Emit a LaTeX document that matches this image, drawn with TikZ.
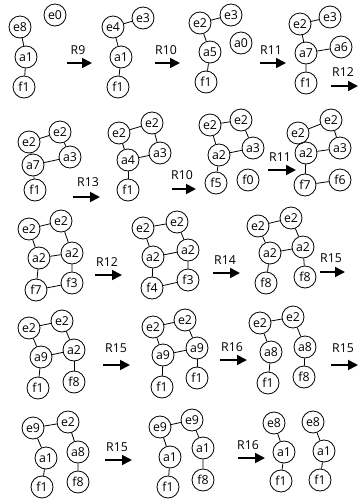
\documentclass[tikz,border=0pt]{standalone}
\usepackage{fontspec}
\setmainfont{Open Sans}
\usetikzlibrary{arrows.meta}
\begin{document}
\begin{tikzpicture}[x=1pt,y=-1pt,
  st/.style={circle,draw,line width=0.8pt,minimum size=22pt,inner sep=0pt,
    font=\fontsize{12.3}{13}\selectfont},
  ln/.style={line width=0.8pt},
  rulearrow/.style={-{Triangle[length=10pt,width=10pt]},line width=1.8pt},
  rlabel/.style={inner sep=0pt,font=\fontsize{12.3}{13}\selectfont}]
\useasboundingbox (0,0) rectangle (358,499);

% ---------------- row 1 ----------------
\node[st] (a-e8) at (20,27) {e8};
\node[st] (a-e0) at (55,15) {e0};
\node[st] (a-a1) at (26,57) {a1};
\node[st] (a-f1) at (24,87) {f1};
\draw[ln] (a-e8) -- (a-a1) -- (a-f1);
\coordinate (r9s) at (67,63); \coordinate (r9e) at (92,63);
\draw[rulearrow] (r9s) -- (r9e);
\node[rlabel] (r9l) at (78,50) {R9};

\node[st] (b-e4) at (113,27) {e4};
\node[st] (b-e3) at (143,18) {e3};
\node[st] (b-a1) at (121,57) {a1};
\node[st] (b-f1) at (118,87) {f1};
\draw[ln] (b-e3) -- (b-e4) -- (b-a1) -- (b-f1);
\coordinate (r10s) at (155,63); \coordinate (r10e) at (180,63);
\draw[rulearrow] (r10s) -- (r10e);
\node[rlabel] (r10l) at (166,50) {R10};

\node[st] (c-e2) at (200,23) {e2};
\node[st] (c-e3) at (231,15) {e3};
\node[st] (c-a5) at (210,52) {a5};
\node[st] (c-a0) at (241,43) {a0};
\node[st] (c-f1) at (206,82) {f1};
\draw[ln] (c-e3) -- (c-e2) -- (c-a5) -- (c-f1);
\coordinate (r11s) at (260,63); \coordinate (r11e) at (286,63);
\draw[rulearrow] (r11s) -- (r11e);
\node[rlabel] (r11l) at (271,50) {R11};

\node[st] (d-e2) at (300,24) {e2};
\node[st] (d-e3) at (330,17) {e3};
\node[st] (d-a7) at (306,53) {a7};
\node[st] (d-a6) at (341,47) {a6};
\node[st] (d-f1) at (306,83) {f1};
\draw[ln] (d-e3) -- (d-e2) -- (d-a7) -- (d-f1);
\draw[ln] (d-a7) -- (d-a6);
\coordinate (r12s) at (331,86); \coordinate (r12e) at (358,86);
\draw[rulearrow] (r12s) -- (r12e);
\node[rlabel] (r12l) at (343,72) {R12};

% ---------------- row 2 ----------------
\node[st] (e-e2l) at (29,142) {e2};
\node[st] (e-e2r) at (60,132) {e2};
\node[st] (e-a7) at (33,165) {a7};
\node[st] (e-a3) at (70,157) {a3};
\node[st] (e-f1) at (35,190) {f1};
\draw[ln] (e-e2l) -- (e-e2r) -- (e-a3) -- (e-a7) -- (e-e2l);
\draw[ln] (e-a7) -- (e-f1);
\coordinate (r13s) at (73,197); \coordinate (r13e) at (100,197);
\draw[rulearrow] (r13s) -- (r13e);
\node[rlabel] (r13l) at (88,182) {R13};

\node[st] (f-e2l) at (119,133) {e2};
\node[st] (f-e2r) at (152,123) {e2};
\node[st] (f-a4) at (128,160) {a4};
\node[st] (f-a3) at (160,153) {a3};
\node[st] (f-f1) at (128,190) {f1};
\draw[ln] (f-e2l) -- (f-e2r) -- (f-a3) -- (f-a4) -- (f-e2l);
\draw[ln] (f-a4) -- (f-f1);
\coordinate (r10bs) at (172,189); \coordinate (r10be) at (196,189);
\draw[rulearrow] (r10bs) -- (r10be);
\node[rlabel] (r10bl) at (182,175) {R10};

\node[st] (g-e2l) at (210,125) {e2};
\node[st] (g-e2r) at (241,120) {e2};
\node[st] (g-a2) at (219,155) {a2};
\node[st] (g-a3) at (253,148) {a3};
\node[st] (g-f5) at (216,183) {f5};
\node[st] (g-f0) at (248,180) {f0};
\draw[ln] (g-e2l) -- (g-e2r) -- (g-a3) -- (g-a2) -- (g-e2l);
\draw[ln] (g-a2) -- (g-f5);
\coordinate (r11bs) at (268,170); \coordinate (r11be) at (296,170);
\draw[rulearrow] (r11bs) -- (r11be);
\node[rlabel] (r11bl) at (280,157) {R11};

\node[st] (h-e2l) at (298,133) {e2};
\node[st] (h-e2r) at (331,120) {e2};
\node[st] (h-a2) at (306,153) {a2};
\node[st] (h-a3) at (340,148) {a3};
\node[st] (h-f7) at (305,185) {f7};
\node[st] (h-f6) at (340,180) {f6};
\draw[ln] (h-e2l) -- (h-e2r) -- (h-a3) -- (h-a2) -- (h-e2l);
\draw[ln] (h-a2) -- (h-f7) -- (h-f6);

% ---------------- row 3 ----------------
\node[st] (i-e2l) at (29,229) {e2};
\node[st] (i-e2r) at (61,221) {e2};
\node[st] (i-a2l) at (39,258) {a2};
\node[st] (i-a2r) at (72,253) {a2};
\node[st] (i-f7) at (36,290) {f7};
\node[st] (i-f3) at (72,283) {f3};
\draw[ln] (i-e2l) -- (i-e2r) -- (i-a2r) -- (i-a2l) -- (i-e2l);
\draw[ln] (i-a2l) -- (i-f7) -- (i-f3) -- (i-a2r);
\coordinate (r12bs) at (95,275); \coordinate (r12be) at (122,275);
\draw[rulearrow] (r12bs) -- (r12be);
\node[rlabel] (r12bl) at (107,262) {R12};

\node[st] (j-e2l) at (143,228) {e2};
\node[st] (j-e2r) at (177,222) {e2};
\node[st] (j-a2l) at (153,257) {a2};
\node[st] (j-a2r) at (188,250) {a2};
\node[st] (j-f4) at (152,288) {f4};
\node[st] (j-f3) at (188,280) {f3};
\draw[ln] (j-e2l) -- (j-e2r) -- (j-a2r) -- (j-a2l) -- (j-e2l);
\draw[ln] (j-a2l) -- (j-f4) -- (j-f3) -- (j-a2r);
\coordinate (r14s) at (213,273); \coordinate (r14e) at (240,273);
\draw[rulearrow] (r14s) -- (r14e);
\node[rlabel] (r14l) at (225,260) {R14};

\node[st] (k-e2l) at (258,226) {e2};
\node[st] (k-e2r) at (291,218) {e2};
\node[st] (k-a2l) at (270,253) {a2};
\node[st] (k-a2r) at (303,247) {a2};
\node[st] (k-f8l) at (266,283) {f8};
\node[st] (k-f8r) at (305,277) {f8};
\draw[ln] (k-e2l) -- (k-e2r) -- (k-a2r) -- (k-a2l) -- (k-e2l);
\draw[ln] (k-a2l) -- (k-f8l);
\draw[ln] (k-a2r) -- (k-f8r);
\coordinate (r15as) at (320,272); \coordinate (r15ae) at (345,272);
\draw[rulearrow] (r15as) -- (r15ae);
\node[rlabel] (r15al) at (331,258) {R15};

% ---------------- row 4 ----------------
\node[st] (l-e2l) at (29,328) {e2};
\node[st] (l-e2r) at (62,321) {e2};
\node[st] (l-a9) at (41,357) {a9};
\node[st] (l-a2) at (74,350) {a2};
\node[st] (l-f1) at (38,388) {f1};
\node[st] (l-f8) at (74,382) {f8};
\draw[ln] (l-e2l) -- (l-e2r) -- (l-a2) -- (l-a9) -- (l-e2l);
\draw[ln] (l-a9) -- (l-f1);
\draw[ln] (l-a2) -- (l-f8);
\coordinate (r15bs) at (103,365); \coordinate (r15be) at (130,365);
\draw[rulearrow] (r15bs) -- (r15be);
\node[rlabel] (r15bl) at (116,348) {R15};

\node[st] (m-e2l) at (153,327) {e2};
\node[st] (m-e2r) at (185,320) {e2};
\node[st] (m-a9l) at (163,355) {a9};
\node[st] (m-a9r) at (197,348) {a9};
\node[st] (m-f1l) at (162,387) {f1};
\node[st] (m-f1r) at (197,378) {f1};
\draw[ln] (m-e2l) -- (m-e2r) -- (m-a9r) -- (m-a9l) -- (m-e2l);
\draw[ln] (m-a9l) -- (m-f1l);
\draw[ln] (m-a9r) -- (m-f1r);
\coordinate (r16as) at (220,360); \coordinate (r16ae) at (247,360);
\draw[rulearrow] (r16as) -- (r16ae);
\node[rlabel] (r16al) at (232,347) {R16};

\node[st] (n-e2l) at (260,323) {e2};
\node[st] (n-e2r) at (293,317) {e2};
\node[st] (n-a8l) at (271,352) {a8};
\node[st] (n-a8r) at (305,347) {a8};
\node[st] (n-f1) at (268,383) {f1};
\node[st] (n-f8) at (304,377) {f8};
\draw[ln] (n-a8l) -- (n-e2l) -- (n-e2r) -- (n-a8r);
\draw[ln] (n-a8l) -- (n-f1);
\draw[ln] (n-a8r) -- (n-f8);
\coordinate (r15cs) at (331,365); \coordinate (r15ce) at (358,365);
\draw[rulearrow] (r15cs) -- (r15ce);
\node[rlabel] (r15cl) at (343,348) {R15};

% ---------------- row 5 ----------------
\node[st] (o-e9) at (33,428) {e9};
\node[st] (o-e2) at (68,422) {e2};
\node[st] (o-a1) at (46,458) {a1};
\node[st] (o-a8) at (78,452) {a8};
\node[st] (o-f1) at (42,487) {f1};
\node[st] (o-f8) at (78,482) {f8};
\draw[ln] (o-f1) -- (o-a1) -- (o-e9) -- (o-e2) -- (o-a8) -- (o-f8);
\coordinate (r15ds) at (105,460); \coordinate (r15de) at (132,460);
\draw[rulearrow] (r15ds) -- (r15de);
\node[rlabel] (r15dl) at (117,447) {R15};

\node[st] (p-e9l) at (160,427) {e9};
\node[st] (p-e9r) at (192,420) {e9};
\node[st] (p-a1l) at (170,457) {a1};
\node[st] (p-a1r) at (203,448) {a1};
\node[st] (p-f1) at (168,487) {f1};
\node[st] (p-f8) at (203,480) {f8};
\draw[ln] (p-f1) -- (p-a1l) -- (p-e9l) -- (p-e9r) -- (p-a1r) -- (p-f8);
\coordinate (r16bs) at (238,458); \coordinate (r16be) at (265,458);
\draw[rulearrow] (r16bs) -- (r16be);
\node[rlabel] (r16bl) at (248,445) {R16};

\node[st] (q-e8l) at (274,423) {e8};
\node[st] (q-a1l) at (284,452) {a1};
\node[st] (q-f1l) at (281,481) {f1};
\node[st] (q-e8r) at (313,422) {e8};
\node[st] (q-a1r) at (324,451) {a1};
\node[st] (q-f1r) at (320,480) {f1};
\draw[ln] (q-e8l) -- (q-a1l) -- (q-f1l);
\draw[ln] (q-e8r) -- (q-a1r) -- (q-f1r);
\end{tikzpicture}
\end{document}
